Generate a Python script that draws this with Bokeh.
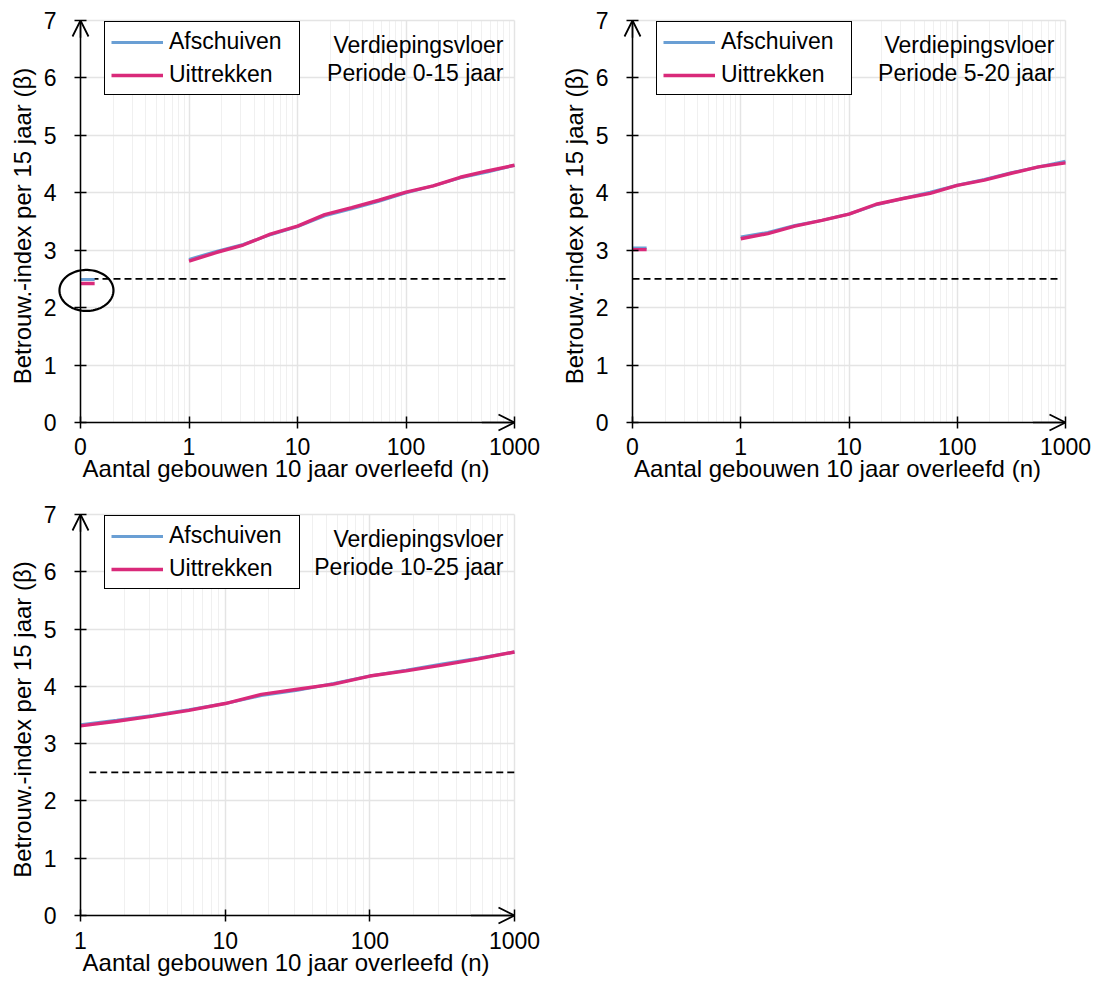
import math
from bokeh.plotting import figure
from bokeh.models import (FixedTicker, Legend, LegendItem, Label, Arrow, OpenHead,
                          PolyAnnotation, LinearAxis, LogAxis)
from bokeh.layouts import column, row
from bokeh.embed import file_html
from bokeh.resources import INLINE

FONT = "Liberation Sans"
BLUE = "#6A9FD4"
PINK = "#D92A7A"

# ---------------- data ----------------
n_values = [1, 1.78, 3.16, 5.62, 10, 17.8, 31.6, 56.2, 100, 178, 316, 562, 1000]
zero_x = [0.1, 0.135]          # the "0" point on the broken log axis

p1_afschuiven = [2.84, 2.98, 3.10, 3.27, 3.41, 3.60, 3.72, 3.85, 4.00, 4.12, 4.26, 4.36, 4.48]
p1_uittrekken = [2.81, 2.96, 3.09, 3.28, 3.42, 3.62, 3.74, 3.87, 4.01, 4.12, 4.27, 4.38, 4.48]
p1_zero = [2.49, 2.42]          # Afschuiven, Uittrekken at n = 0

p2_afschuiven = [3.23, 3.31, 3.43, 3.52, 3.63, 3.79, 3.90, 4.01, 4.13, 4.23, 4.35, 4.45, 4.55]
p2_uittrekken = [3.20, 3.29, 3.42, 3.52, 3.63, 3.80, 3.90, 3.99, 4.13, 4.22, 4.34, 4.45, 4.52]
p2_zero = [3.04, 3.01]

p3_afschuiven = [3.33, 3.41, 3.49, 3.59, 3.70, 3.84, 3.93, 4.05, 4.18, 4.28, 4.39, 4.49, 4.60]
p3_uittrekken = [3.31, 3.39, 3.48, 3.58, 3.70, 3.86, 3.95, 4.04, 4.18, 4.27, 4.37, 4.48, 4.60]

threshold = 2.5
y_ticks = [0, 1, 2, 3, 4, 5, 6, 7]
x_ticks_broken = [0.1, 1, 10, 100, 1000]
x_labels_broken = ["0", "1", "10", "100", "1000"]
x_ticks_log = [1, 10, 100, 1000]
x_labels_log = ["1", "10", "100", "1000"]
series_labels = ["Afschuiven", "Uittrekken"]
panel_title = "Verdiepingsvloer"
periods = ["Periode 0-15 jaar", "Periode 5-20 jaar", "Periode 10-25 jaar"]
x_title = "Aantal gebouwen 10 jaar overleefd (n)"
y_title = "Betrouw.-index per 15 jaar (β)"

# extra frame room (px) round the axes so that the ring and arrowheads are not clipped
PAD_L, PAD_B, PAD_R, PAD_T = 26, 12, 3, 3


def minor_ticks(lo, hi):
    out = []
    d = lo
    while d < hi:
        out += [m * d for m in range(2, 10)]
        d *= 10
    return out


def style_labels(ax):
    ax.major_label_text_font = FONT
    ax.major_label_text_font_size = "23px"
    ax.major_label_text_color = "black"
    ax.axis_label_text_font = FONT
    ax.axis_label_text_font_size = "24px"
    ax.axis_label_text_font_style = "normal"
    ax.axis_label_text_color = "black"


def make_panel(w, h, ax_left, ax_top, ax_w, ax_h, x_lo, ticks, labels, afs, uit,
               zero, period, dash_x, xlab_standoff, ellipse=None):
    bl = ax_left - PAD_L
    br = w - (ax_left + ax_w + PAD_R)
    bt = ax_top - PAD_T
    bb = h - (ax_top + ax_h + PAD_B)
    decade_px = ax_w / math.log10(1000 / x_lo)
    unit_px = ax_h / 7.0
    x_range = (x_lo * 10 ** (-PAD_L / decade_px), 1000 * 10 ** (PAD_R / decade_px))
    y_range = (-PAD_B / unit_px, 7 + PAD_T / unit_px)
    frame_h = h - bt - bb

    p = figure(width=w, height=h, x_axis_type="log", x_range=x_range,
               y_range=y_range, output_backend="svg", toolbar_location=None,
               min_border_left=bl, min_border_right=br,
               min_border_top=bt, min_border_bottom=bb)
    p.outline_line_color = None
    p.background_fill_color = "white"
    p.border_fill_color = "white"

    x_ticker = FixedTicker(ticks=ticks, minor_ticks=minor_ticks(x_lo, 1000))
    y_ticker = FixedTicker(ticks=y_ticks)
    overrides = dict(zip(ticks, labels))

    # axis lines with crossing ticks, drawn at the data origin
    p.xaxis.ticker = x_ticker
    p.yaxis.ticker = y_ticker
    p.xaxis.fixed_location = 0
    p.yaxis.fixed_location = x_lo
    p.xaxis.bounds = (x_lo, 1000)
    p.yaxis.bounds = (0, 7)
    for ax in (p.xaxis[0], p.yaxis[0]):
        ax.axis_line_color = "black"
        ax.axis_line_width = 1.5
        ax.major_tick_line_color = "black"
        ax.major_tick_line_width = 1.5
        ax.major_tick_in = 6
        ax.major_tick_out = 6
        ax.minor_tick_line_color = None
        ax.major_label_text_alpha = 0
        ax.axis_label = None

    # tick labels and titles, in the side panels
    xlab = LogAxis(ticker=x_ticker, major_label_overrides=overrides,
                   axis_label=x_title, axis_line_color=None, bounds=(x_lo, 1000),
                   major_tick_line_color=None, minor_tick_line_color=None,
                   major_tick_in=0, major_tick_out=0,
                   major_label_standoff=xlab_standoff, axis_label_standoff=-3)
    ylab = LinearAxis(ticker=y_ticker, axis_label=y_title, axis_line_color=None,
                      bounds=(0, 7),
                      major_tick_line_color=None, minor_tick_line_color=None,
                      major_tick_in=0, major_tick_out=0,
                      major_label_standoff=-2, axis_label_standoff=5)
    style_labels(xlab)
    style_labels(ylab)
    p.add_layout(xlab, "below")
    p.add_layout(ylab, "left")

    p.xgrid.grid_line_color = "#e4e4e4"
    p.xgrid.grid_line_width = 1.5
    p.xgrid.minor_grid_line_color = "#f0f0f0"
    p.xgrid.minor_grid_line_width = 1
    p.ygrid.grid_line_color = "#e4e4e4"
    p.ygrid.grid_line_width = 1.5
    p.xgrid.bounds = (x_lo, 1000)
    p.xgrid.cross_bounds = (0, 7)
    p.ygrid.bounds = (0, 7)
    p.ygrid.cross_bounds = (x_lo, 1000)

    p.line(dash_x, [threshold, threshold], line_color="black",
           line_width=1.8, line_dash="7 4")

    r_a = p.line(n_values, afs, line_color=BLUE, line_width=3)
    r_u = p.line(n_values, uit, line_color=PINK, line_width=3.4)
    if zero is not None:
        p.line(zero_x, [zero[0], zero[0]], line_color=BLUE, line_width=3)
        p.line(zero_x, [zero[1], zero[1]], line_color=PINK, line_width=3.4)

    if ellipse is not None:
        cx, cy, a_px, b_px = ellipse
        ts = [2 * math.pi * k / 90 for k in range(91)]
        xs = [cx * 10 ** (a_px * math.cos(t) / decade_px) for t in ts]
        ys = [cy + b_px * math.sin(t) / unit_px for t in ts]
        p.add_layout(PolyAnnotation(xs=xs, ys=ys, fill_alpha=0,
                                    line_color="black", line_alpha=1,
                                    line_width=2.2))
    head = dict(size=16, line_width=1.8, line_color="black", line_alpha=1)
    p.add_layout(Arrow(end=OpenHead(**head), x_start=x_lo, y_start=6.7,
                       x_end=x_lo, y_end=7, line_width=1.5, line_color="black"))
    p.add_layout(Arrow(end=OpenHead(**head), x_start=500, y_start=0,
                       x_end=1000, y_end=0, line_width=1.5, line_color="black"))

    legend = Legend(items=[LegendItem(label=series_labels[0], renderers=[r_a]),
                           LegendItem(label=series_labels[1], renderers=[r_u])],
                    location=(PAD_L + 24, frame_h - PAD_T - 5 - 70))
    legend.border_line_color = "black"
    legend.border_line_alpha = 1
    legend.border_line_width = 1.5
    legend.background_fill_color = "white"
    legend.background_fill_alpha = 1
    legend.label_text_font = FONT
    legend.label_text_font_size = "23px"
    legend.label_text_color = "black"
    legend.glyph_width = 52
    legend.glyph_height = 26
    legend.label_height = 26
    legend.label_width = 124
    legend.label_standoff = 6
    legend.padding = 6
    legend.spacing = 6
    legend.margin = 0
    p.add_layout(legend)

    for txt, dy in ((panel_title, 24), (period, 52)):
        p.add_layout(Label(x=1000, y=7 - dy / unit_px, x_offset=-11, text=txt,
                           text_align="right", text_baseline="middle",
                           text_font=FONT, text_font_size="23px",
                           text_color="black"))
    return p


p1 = make_panel(555, 492, 80, 20, 434, 402, 0.1, x_ticks_broken, x_labels_broken,
                p1_afschuiven, p1_uittrekken, p1_zero, periods[0], [0.1, 875], -1,
                ellipse=(0.1135, 2.30, 27, 20.5))
p2 = make_panel(555, 492, 77, 20, 433, 402, 0.1, x_ticks_broken, x_labels_broken,
                p2_afschuiven, p2_uittrekken, p2_zero, periods[1], [0.1, 910], -1)
p3 = make_panel(555, 494, 80, 22, 434, 401, 1, x_ticks_log, x_labels_log,
                p3_afschuiven, p3_uittrekken, None, periods[2], [1.15, 1000], 0)

layout = column(row(p1, p2), p3)
open("out.html", "w").write(file_html(layout, INLINE))
